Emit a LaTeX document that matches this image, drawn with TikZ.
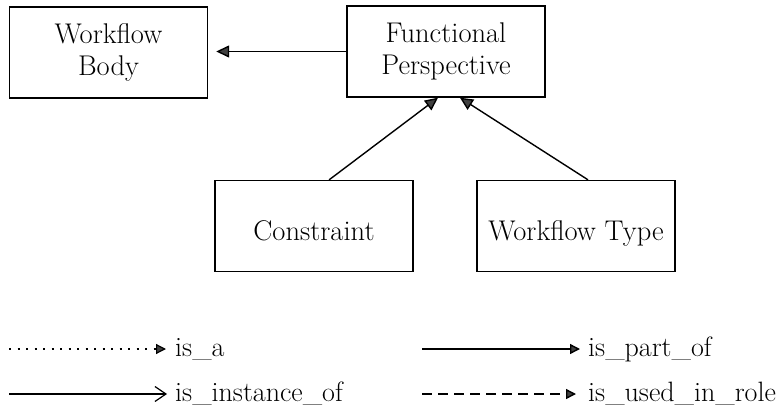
\documentclass[tikz,border=0pt]{standalone}
\usetikzlibrary{arrows.meta,calc}
\begin{document}
\begin{tikzpicture}[x=1pt,y=-1pt,
  box/.style={draw,line width=1.4pt,minimum width=198pt,minimum height=91pt,
    inner sep=0pt,align=center,font=\fontsize{28.5}{32}\selectfont},
  lowtext/.style={text height=30pt,text depth=0pt},
  solidhead/.style={-{Triangle[length=13pt,width=12pt,fill=black!75]}},
  keyhead/.style={-{Triangle[length=10pt,width=10pt,fill=black!75]}},
  openhead/.style={-{Straight Barb[length=11pt,width=15pt,line width=1.2pt]}},
  link/.style={line width=1.4pt},
  keytext/.style={anchor=west,inner sep=0pt,font=\fontsize{28}{32}\selectfont}]
\useasboundingbox (0,0) rectangle (778,411);

% concept boxes
\node[box] (wb) at (108.5,52.5) {Workflow\\Body};
\node[box] (fp) at (446,51.5) {Functional\\Perspective};
\node[box,lowtext] (con) at (314,226) {Constraint};
\node[box,lowtext] (wt) at (576,226) {Workflow Type};

% relations
\draw[link,solidhead] (fp.west) -- ($(wb.east |- fp.west)+(8,0)$);
\coordinate (conTop) at ($(con.north west)!0.576!(con.north east)$);
\coordinate (wtTop)  at ($(wt.north west)!0.56!(wt.north east)$);
\coordinate (fpIn1)  at ($(fp.south west)!0.46!(fp.south east)$);
\coordinate (fpIn2)  at ($(fp.south west)!0.57!(fp.south east)$);
\draw[link,solidhead] (conTop) -- (fpIn1);
\draw[link,solidhead] (wtTop) -- (fpIn2);

% legend
\coordinate (k1s) at (9,349);  \coordinate (k1e) at (166,349);
\coordinate (k2s) at (9,394);  \coordinate (k2e) at (167,394);
\coordinate (k3s) at (422,349); \coordinate (k3e) at (580,349);
\coordinate (k4s) at (422,394); \coordinate (k4e) at (576,394);
\draw[line width=1.2pt,dash pattern=on 2pt off 6.5pt,keyhead] (k1s) -- (k1e);
\draw[line width=1.2pt,openhead] (k2s) -- (k2e);
\draw[line width=1.4pt,keyhead] (k3s) -- (k3e);
\draw[line width=1.4pt,dash pattern=on 10pt off 6pt,keyhead] (k4s) -- (k4e);
\node[keytext] (t1) at (175,349) {is\_a};
\node[keytext] (t2) at (175,394) {is\_instance\_of};
\node[keytext] (t3) at (588,349) {is\_part\_of};
\node[keytext] (t4) at (588,394) {is\_used\_in\_role};
\end{tikzpicture}
\end{document}
